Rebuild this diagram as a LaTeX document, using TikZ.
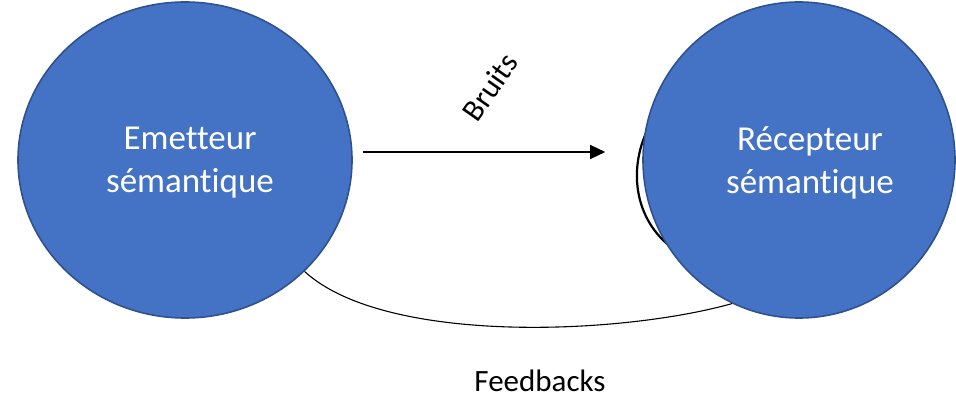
\documentclass[tikz,border=0pt]{standalone}
\usepackage{fontspec}
\setmainfont{Carlito}[Ligatures=NoCommon]
\usetikzlibrary{arrows.meta,shapes.geometric}
\definecolor{blobfill}{HTML}{4472C4}
\definecolor{blobline}{HTML}{2F528F}
\tikzset{
  blob/.style={ellipse, fill=blobfill, draw=blobline, line width=1.6pt,
    minimum width=334pt, minimum height=316pt, inner sep=0pt},
  blobtext/.style={text=white, align=center, font=\fontsize{35}{43}\selectfont},
  plaintext/.style={text=black, font=\fontsize{31}{37}\selectfont, inner sep=0pt},
  conn/.style={line width=1.4pt, -{Triangle[length=15pt,width=14pt]}},
  fb/.style={line width=1.1pt},
  ghost/.style={line width=2.2pt},
}
\begin{document}
\begin{tikzpicture}[x=1pt,y=-1pt]
\useasboundingbox (0,0) rectangle (956,398);
\coordinate (g1) at (650,125);
\coordinate (g2) at (675,250);
\draw[ghost] (g1) .. controls (628,165) and (632,220) .. (g2);
\node[blob] (send) at (185,160) {};
\node[blob, minimum width=312pt] (recv) at (799,160) {};
\node[blobtext] (sendt) at (190,163) {Emetteur\\sémantique};
\node[blobtext] (recvt) at (810,163) {Récepteur\\sémantique};
\draw[conn] ([xshift=10pt,yshift=8pt]send.east) -- ([xshift=-37pt,yshift=8pt]recv.west);
\node[plaintext, rotate=55] (bruits) at (490,87) {Bruits};
\draw[fb] (send.-43) .. controls (385,345) and (620,335) .. (recv.-115);
\node[plaintext] (feed) at (540,381) {Feedbacks};
\end{tikzpicture}
\end{document}
